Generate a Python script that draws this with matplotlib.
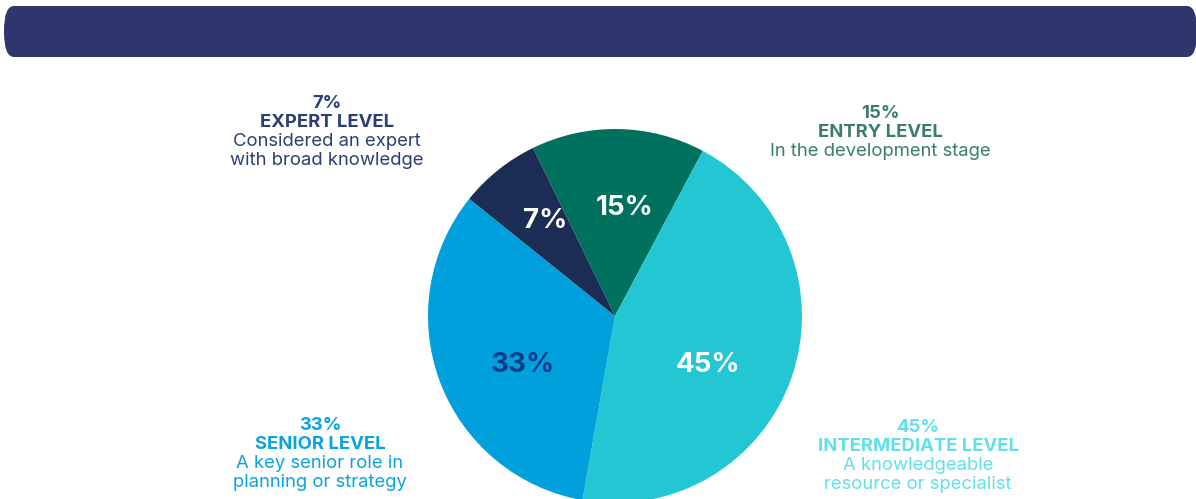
import numpy as np
import matplotlib.pyplot as plt
from matplotlib.patches import FancyBboxPatch

plt.rcParams['font.family'] = ['Inter', 'DejaVu Sans']

# data
levels = ['ENTRY LEVEL', 'INTERMEDIATE LEVEL', 'SENIOR LEVEL', 'EXPERT LEVEL']
shares = [15, 45, 33, 7]
descriptions = [
    ['In the development stage'],
    ['A knowledgeable', 'resource or specialist'],
    ['A key senior role in', 'planning or strategy'],
    ['Considered an expert', 'with broad knowledge'],
]
slice_colors = ['#00715F', '#22C7D3', '#00A0DC', '#1B2D54']
inner_colors = ['white', 'white', '#0F3A8C', 'white']
text_colors = ['#3A7D6E', '#62E0E8', '#0AA3DF', '#2B3F73']

W, H = 1196, 499
fig = plt.figure(figsize=(W / 100, H / 100), dpi=100)

# background axes in pixel units
bg = fig.add_axes([0, 0, 1, 1])
bg.set_xlim(0, W)
bg.set_ylim(H, 0)
bg.axis('off')
banner = FancyBboxPatch((4, 6), 1193, 51,
                        boxstyle='round,pad=0,rounding_size=10',
                        mutation_aspect=2.5,
                        facecolor='#31356E', edgecolor='none')
bg.add_patch(banner)

# pie
cx, cy, r = 615, 316, 187
ax = fig.add_axes([(cx - r) / W, (H - cy - r) / H, 2 * r / W, 2 * r / H])
wedges, _, autotexts = ax.pie(shares, colors=slice_colors, startangle=116,
                              counterclock=False, autopct='%d%%',
                              wedgeprops=dict(linewidth=0))
# nudge the in-slice labels a little off the slice centres
angle_shift = [-4, -9, 7, -2]
label_dist = [0.58, 0.56, 0.56, 0.63]
for t, c, w, da, d in zip(autotexts, inner_colors, wedges, angle_shift, label_dist):
    a = np.deg2rad((w.theta1 + w.theta2) / 2 + da)
    t.set_position((d * np.cos(a), d * np.sin(a)))
    t.set_color(c)
    t.set_fontsize(20)
    t.set_fontweight('bold')
ax.set_xlim(-1, 1)
ax.set_ylim(-1, 1)
ax.set_aspect('equal')

# outside annotations (center x, first line y)
label_pos = [(880, 113), (918, 427), (320, 425), (327, 103)]
for i, (x, y) in enumerate(label_pos):
    lines = [('%d%%' % shares[i], 'bold'), (levels[i], 'bold')]
    lines += [(d, 'normal') for d in descriptions[i]]
    for j, (s, w) in enumerate(lines):
        bg.text(x, y + j * 19.3, s, ha='center', va='center', fontsize=13.3,
                fontweight=w, color=text_colors[i])

fig.savefig('out.png', dpi=100)
